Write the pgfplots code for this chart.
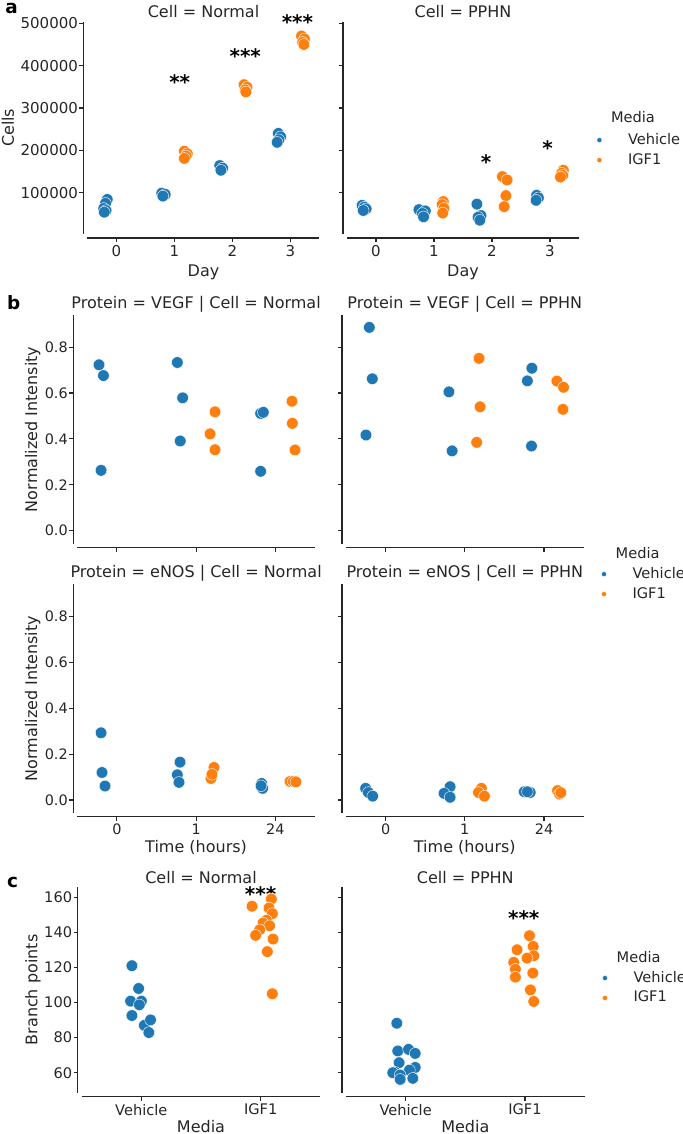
\documentclass[border=0pt]{standalone}
\usepackage{fontspec}
\setmainfont{DejaVu Sans}
\usepackage{pgfplots}
\pgfplotsset{compat=1.18}
\definecolor{cV}{HTML}{1F77B4}
\definecolor{cI}{HTML}{FF7F0E}
\definecolor{ax}{HTML}{262626}
\tikzset{
  star/.style={font=\bfseries\fontsize{10}{12}\selectfont, text=black, yshift=-1.9pt},
  legtitle/.style={font=\fontsize{7.3}{8.8}\selectfont, text=ax, xshift=27pt},
  ttl/.style={anchor=base, inner sep=0pt, font=\fontsize{8}{9.6}\selectfont, text=ax},
}
\pgfplotsset{
  sea/.style={
    scale only axis, clip=false, anchor=south west,
    axis x line*=bottom, axis y line*=left,
    axis line style={-, draw=ax, line width=0.55pt},
    axis x line shift=2pt, axis y line shift=2pt,
    tick align=outside, major tick length=2pt,
    xtick style={draw=ax, line width=0.55pt},
    ytick style={draw=ax, line width=0.55pt},
    xticklabel style={inner ysep=1.5pt},
    yticklabel style={inner xsep=0.6pt},
    scaled y ticks=false, scaled x ticks=false,
    tick label style={font=\fontsize{7.5}{9}\selectfont, text=ax},
    label style={font=\fontsize{8}{9.6}\selectfont, text=ax},
    /pgf/number format/assume math mode=true,
    legend style={draw=none, fill=none, inner sep=0pt, row sep=-1pt,
      font=\fontsize{7.3}{8.8}\selectfont, text=ax,
      /tikz/every odd column/.append style={column sep=11pt}},
    legend cell align=left,
    legend image code/.code={\draw[##1, mark size=1.3pt] plot coordinates {(0pt,0pt)};},
  },
  veh/.style={only marks, mark=*, mark size=2.9pt, mark options={fill=cV, draw=white, line width=0.2pt}},
  igf/.style={only marks, mark=*, mark size=2.9pt, mark options={fill=cI, draw=white, line width=0.2pt}},
  aax/.style={sea, width=116pt, height=106.2pt, xmin=-0.5, xmax=3.5, ymin=2500, ymax=504000,
    xtick={0,1,2,3}, ytick={100000,200000,300000,400000,500000},
    xlabel={Day}, xlabel style={at={(axis description cs:0.5,0)}, anchor=center, yshift=-19.35pt}},
  bax/.style={sea, width=118.8pt, height=114.3pt, xmin=-0.5, xmax=2.5, ymin=-0.056, ymax=0.94,
    xtick={0,1,2}, ytick={0,0.2,0.4,0.6,0.8},
    tick label style={font=\fontsize{7.2}{8.6}\selectfont},
    xlabel style={at={(axis description cs:0.5,0)}, anchor=center, yshift=-17.45pt}},
  cax/.style={sea, width=119.3pt, height=102.7pt, xmin=-0.5, xmax=1.5, ymin=48.6, ymax=165.7,
    xtick={0,1}, xticklabels={Vehicle,IGF1}, ytick={60,80,100,120,140,160},
    tick label style={font=\fontsize{7.3}{8.8}\selectfont},
    xlabel={Media}, xlabel style={at={(axis description cs:0.5,0)}, anchor=center, yshift=-17.15pt}},
}
\begin{document}
\begin{tikzpicture}
\path[use as bounding box] (0pt,0pt) rectangle (341.5pt,567pt);

% ---------------- panel a, Normal
\begin{axis}[aax, at={(43.75pt,450pt)},
  yticklabels={100000,200000,300000,400000,500000},
  ylabel={Cells}, ylabel style={at={(axis description cs:-0.343,0.5)}, anchor=center}]
\addplot[veh] coordinates {(-0.16,84000) (-0.19,75000) (-0.22,63000) (-0.18,58000) (-0.21,54000)
 (0.78,99000) (0.84,96000) (0.80,92000)
 (1.78,164000) (1.83,158000) (1.80,153000)
 (2.79,240000) (2.83,232000) (2.80,225000) (2.77,219000)};
\addplot[igf] coordinates {(1.17,198000) (1.22,192000) (1.20,187000) (1.17,181000)
 (2.20,355000) (2.25,349000) (2.22,343000) (2.23,338000)
 (3.19,470000) (3.24,463000) (3.21,455000) (3.23,450000)};
\node[star] at (axis cs:1.09,370100) {**};
\node[star] at (axis cs:2.22,430600) {***};
\node[star] at (axis cs:3.12,511800) {***};
\node[ttl, yshift=2pt] at (axis description cs:0.5,1) {Cell = Normal};
\end{axis}

% ---------------- panel a, PPHN
\begin{axis}[aax, at={(173.5pt,450pt)}, yticklabels={},
  legend style={at={(axis description cs:1,0.395)}, anchor=west, xshift=8.7pt}]
\addplot[veh] coordinates {(-0.24,70000) (-0.20,66000) (-0.17,62000) (-0.22,58000)
 (0.74,60000) (0.85,57000) (0.80,51000) (0.82,43000)
 (1.74,73000) (1.81,46000) (1.76,42000) (1.79,35000)
 (2.77,94000) (2.80,88000) (2.76,82000)};
\addlegendentry{Vehicle}
\addplot[igf] coordinates {(1.16,79000) (1.14,72000) (1.17,63000) (1.15,52000)
 (2.18,138000) (2.26,130000) (2.24,93000) (2.21,67000)
 (3.23,153000) (3.20,146000) (3.22,141000) (3.18,137000)};
\addlegendentry{IGF1}
\node[star] at (axis cs:1.90,181200) {*};
\node[star] at (axis cs:2.96,215000) {*};
\node[legtitle] at (axis description cs:1,0.551) {Media};
\node[ttl, yshift=2pt] at (axis description cs:0.5,1) {Cell = PPHN};
\end{axis}

% ---------------- panel b, VEGF Normal
\begin{axis}[bax, at={(38.65pt,295.2pt)},
  xticklabels={}, yticklabels={0.0,0.2,0.4,0.6,0.8},
  ylabel={Normalized Intensity}, ylabel style={at={(axis description cs:-0.188,0.5)}, anchor=center}]
\addplot[veh] coordinates {(-0.226,0.723) (-0.17,0.676) (-0.20,0.263)
 (0.763,0.733) (0.83,0.579) (0.80,0.391)
 (1.815,0.511) (1.849,0.516) (1.815,0.259)};
\addplot[igf] coordinates {(1.239,0.518) (1.176,0.422) (1.239,0.353)
 (2.211,0.564) (2.215,0.468) (2.249,0.352)};
\node[ttl, yshift=3.3pt] at (axis description cs:0.5,1) {Protein = VEGF | Cell = Normal};
\end{axis}

% ---------------- panel b, VEGF PPHN
\begin{axis}[bax, at={(173pt,295.2pt)}, xticklabels={}, yticklabels={}]
\addplot[veh] coordinates {(-0.206,0.886) (-0.168,0.662) (-0.248,0.417)
 (0.80,0.605) (0.84,0.348)
 (1.847,0.708) (1.79,0.653) (1.842,0.369)};
\addplot[igf] coordinates {(1.18,0.751) (1.193,0.540) (1.15,0.385)
 (2.163,0.652) (2.247,0.625) (2.239,0.529)};
\node[ttl, yshift=3.3pt] at (axis description cs:0.5,1) {Protein = VEGF | Cell = PPHN};
\end{axis}

% ---------------- panel b, eNOS Normal
\begin{axis}[bax, at={(38.65pt,160.55pt)},
  xticklabels={0,1,24}, yticklabels={0.0,0.2,0.4,0.6,0.8},
  xlabel={Time (hours)},
  ylabel={Normalized Intensity}, ylabel style={at={(axis description cs:-0.188,0.5)}, anchor=center}]
\addplot[veh] coordinates {(-0.20,0.293) (-0.188,0.120) (-0.15,0.061)
 (0.797,0.165) (0.763,0.110) (0.784,0.077)
 (1.828,0.072) (1.84,0.051) (1.82,0.062)};
\addplot[igf] coordinates {(1.226,0.142) (1.188,0.094) (1.20,0.112)
 (2.186,0.081) (2.227,0.081) (2.26,0.079)};
\node[ttl, yshift=3.3pt] at (axis description cs:0.5,1) {Protein = eNOS | Cell = Normal};
\end{axis}

% ---------------- panel b, eNOS PPHN
\begin{axis}[bax, at={(173pt,160.55pt)},
  xticklabels={0,1,24}, yticklabels={},
  xlabel={Time (hours)},
  legend style={at={(axis description cs:1,1.001)}, anchor=west, xshift=8.7pt}]
\addplot[veh] coordinates {(-0.252,0.051) (-0.218,0.033) (-0.163,0.017)
 (0.814,0.058) (0.738,0.029) (0.814,0.012)
 (1.75,0.036) (1.826,0.033) (1.79,0.036)};
\addlegendentry{Vehicle}
\addplot[igf] coordinates {(1.21,0.051) (1.172,0.033) (1.248,0.017)
 (2.171,0.041) (2.196,0.026) (2.213,0.032)};
\addlegendentry{IGF1}
\node[legtitle] at (axis description cs:1,1.136) {Media};
\node[ttl, yshift=3.3pt] at (axis description cs:0.5,1) {Protein = eNOS | Cell = PPHN};
\end{axis}

% ---------------- panel c, Normal
\begin{axis}[cax, at={(40.85pt,20.65pt)},
  ylabel={Branch points}, ylabel style={at={(axis description cs:-0.204,0.5)}, anchor=center}]
\addplot[veh] coordinates {(-0.079,121.0) (-0.023,108.0) (-0.09,100.8) (0.0,100.8) (-0.017,98.7)
 (-0.079,92.6) (0.025,87.0) (0.077,90.1) (0.063,82.9)};
\addplot[igf] coordinates {(0.928,154.9) (1.09,159.0) (1.07,153.9) (1.098,150.7) (1.048,146.9)
 (1.02,145.3) (1.075,143.8) (0.992,141.5) (0.958,138.3) (1.104,136.2) (1.056,129.0) (1.098,105.0)};
\node[ttl, yshift=1.9pt] at (axis description cs:0.5,1) {Cell = Normal};
\node[star] at (axis cs:1.0,164.2) {***};
\end{axis}

% ---------------- panel c, PPHN
\begin{axis}[cax, at={(173pt,20.65pt)}, yticklabels={},
  legend style={at={(axis description cs:1,0.51)}, anchor=west, xshift=8.7pt}]
\addplot[veh] coordinates {(-0.074,88.2) (-0.066,72.4) (0.024,73.3) (0.08,71.0) (-0.055,65.7)
 (0.08,63.0) (-0.088,60.2) (-0.108,60.0) (0.032,61.5) (-0.046,58.7) (-0.046,56.2) (0.06,56.8)};
\addlegendentry{Vehicle}
\addplot[igf] coordinates {(1.038,138.1) (0.934,130.1) (1.069,132.0) (1.074,126.7) (1.018,125.3)
 (0.906,122.9) (0.92,119.0) (0.92,114.5) (1.066,116.8) (1.046,107.2) (1.074,100.6)};
\addlegendentry{IGF1}
\node[star] at (axis cs:0.99,150.5) {***};
\node[legtitle] at (axis description cs:1,0.662) {Media};
\node[ttl, yshift=1.9pt] at (axis description cs:0.5,1) {Cell = PPHN};
\end{axis}

\node[anchor=base west, inner sep=0pt, text=black, font=\bfseries\fontsize{9.2}{11}\selectfont] at (2.5pt,560.35pt) {a};
\node[anchor=base west, inner sep=0pt, text=black, font=\bfseries\fontsize{9.2}{11}\selectfont] at (3.3pt,412pt) {b};
\node[anchor=base west, inner sep=0pt, text=black, font=\bfseries\fontsize{9.2}{11}\selectfont] at (3.3pt,123.35pt) {c};
\end{tikzpicture}
\end{document}
